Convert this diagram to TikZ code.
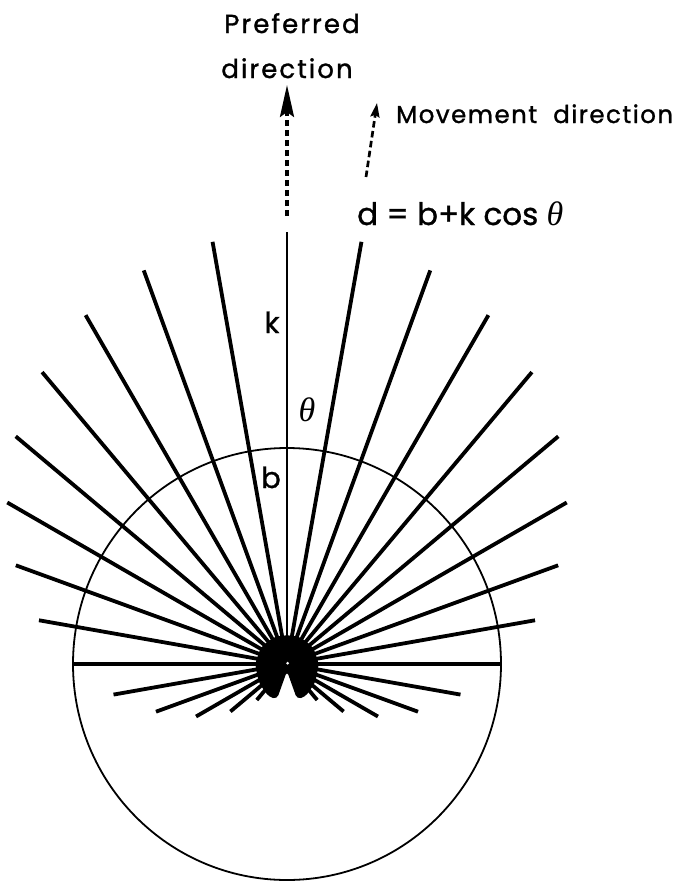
\documentclass[tikz,border=0pt]{standalone}
\usepackage{fontspec}
\newfontfamily\lab{Poppins}[LetterSpace=8,FakeBold=1.2]
\newfontfamily\movf{Poppins}[LetterSpace=6,FakeBold=1.2]
\newfontfamily\eqf{Poppins}[LetterSpace=0,FakeBold=1]
\newfontfamily\grk{Liberation Serif}
\usetikzlibrary{arrows.meta}
\begin{document}
\begin{tikzpicture}[x=1pt,y=-1pt,
  ray/.style={line width=3.8pt,line cap=butt},
  circ/.style={line width=1.8pt},
  dasharrow/.style={line width=3.2pt,dash pattern=on 6.5pt off 3.5pt},
  txt/.style={inner sep=0pt,font=\lab}]
\useasboundingbox (0,0) rectangle (686,881);
\coordinate (O) at (287,664);
% circle of radius b
\draw[circ] (O) ellipse [x radius=214pt, y radius=216pt];
% rays d = b + k cos(theta)
\foreach \a in {10,20,...,350}{
  \pgfmathsetmacro\dd{214+218*cos(\a)}
  \ifdim\dd pt>3pt
    \draw[ray] (O) -- ++({sin(\a)*\dd},{-cos(\a)*\dd});
  \fi
}
\coordinate (top) at (287,232);
\draw[line width=2.7pt] (O) -- (top);
% dense centre where the rays meet
\fill[rounded corners=4pt] (287,671) -- (297,699) -- (305,697) -- (315,683) -- (319,664)
  -- (313,647) -- (300,637) -- (287,635) -- (274,637) -- (261,647) -- (255,664)
  -- (259,683) -- (269,697) -- (277,699) -- cycle;
\fill[white] (287.6,663.2) circle[radius=1.5pt];
% preferred direction arrow
\coordinate (pb) at (287,216);
\coordinate (pt) at (287,85);
\draw[dasharrow,-{Stealth[length=32pt,width=14pt,inset=5pt]}] (pb) -- (pt);
% movement direction arrow
\coordinate (mb) at (366,177);
\coordinate (mt) at (377,103);
\draw[dasharrow,line width=2.7pt,-{Stealth[length=14pt,width=9pt,inset=2pt]}] (mb) -- (mt);
% texts
\node[txt,anchor=base,font=\lab\fontsize{26}{26}\selectfont] (pref) at (292,33) {Preferred};
\node[txt,anchor=base,font=\lab\fontsize{26}{26}\selectfont] (dir) at (287,78) {direction};
\node[txt,anchor=base west,font=\movf\fontsize{24.5}{24.5}\selectfont] (mov) at (396,123) {Movement\ \ direction};
\node[txt,anchor=base west,font=\eqf\fontsize{31}{31}\selectfont] (eq) at (357,225) {d = b+k cos\ {\grk\itshape\fontsize{34}{34}\selectfont θ}};
\node[txt,anchor=base,font=\eqf\fontsize{29}{29}\selectfont] (k) at (272,333) {k};
\node[txt,anchor=base,font=\eqf\fontsize{29}{29}\selectfont] (b) at (271,488) {b};
\node[txt,font=\grk\itshape\fontsize{34}{34}\selectfont] (th) at (307,410) {θ};
\end{tikzpicture}
\end{document}
